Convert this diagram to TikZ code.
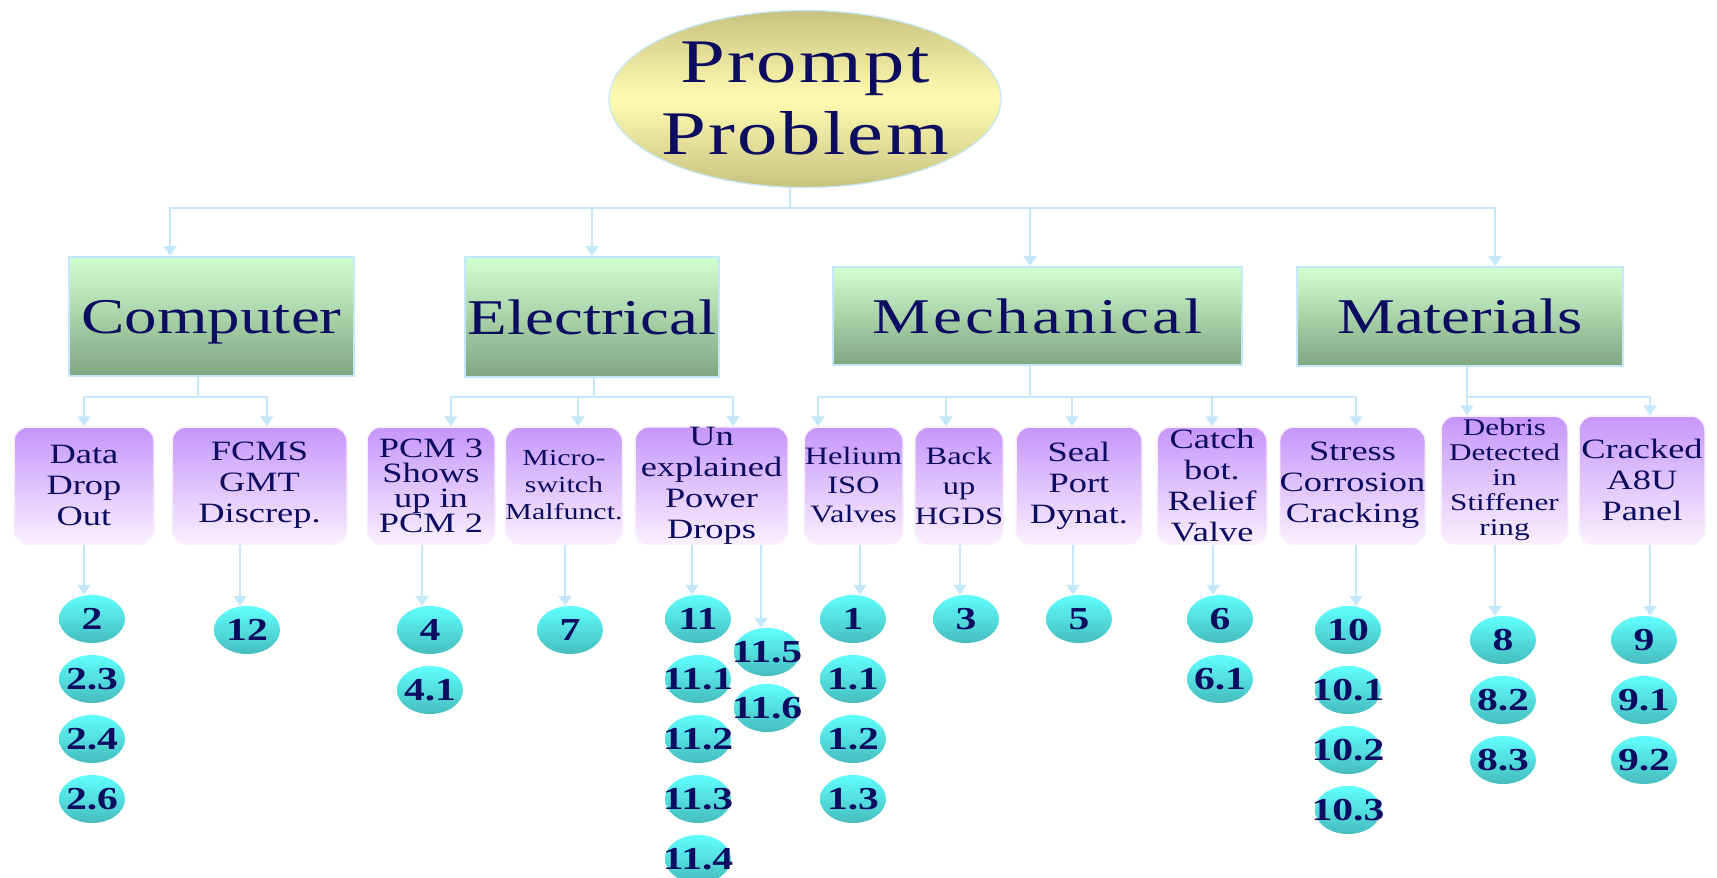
\documentclass[tikz,border=0pt]{standalone}
\usepackage{fontspec}
\setmainfont{Liberation Serif}[FakeStretch=1.3]
\usepackage{tikz}
\usetikzlibrary{shapes.geometric}
\usetikzlibrary{arrows.meta}
\definecolor{ink}{RGB}{12,12,96}
\definecolor{wire}{RGB}{196,232,250}
\definecolor{khakiA}{RGB}{200,194,128}
\definecolor{khakiB}{RGB}{255,252,178}
\definecolor{leafA}{RGB}{210,255,210}
\definecolor{leafB}{RGB}{128,166,128}
\definecolor{lilacA}{RGB}{198,150,250}
\definecolor{lilacB}{RGB}{250,240,253}
\definecolor{aquaA}{RGB}{96,255,255}
\definecolor{aquaB}{RGB}{70,188,190}
\newcommand{\titlesz}{\fontsize{62}{72}\selectfont\addfontfeatures{LetterSpace=4}}
\newcommand{\catsz}{\fontsize{50}{56}\selectfont}
\newcommand{\subsz}{\fontsize{28}{31}\selectfont}
\newcommand{\numsz}{\fontsize{32}{32}\selectfont\bfseries}

\begin{document}
\begin{tikzpicture}[x=1pt,y=-1pt,
	link/.style={draw=wire,line width=2.2pt},
	arr/.style={link,-{Triangle[width=13pt,length=10pt]}},
	titl/.style={ellipse,draw=wire,line width=1.2pt,top color=khakiA,bottom color=khakiA,middle color=khakiB,
		minimum width=392pt,minimum height=177pt,inner xsep=-6pt,inner ysep=0pt,align=center,text=ink,font=\titlesz},
	cat/.style={rectangle,draw=wire,line width=2pt,top color=leafA,bottom color=leafB,inner sep=0pt,
		text height=34pt,text depth=0pt,text=ink,font=\catsz},
	sub/.style={rectangle,rounded corners=14pt,draw=lilacB,line width=1.5pt,top color=lilacA,bottom color=lilacB,
		minimum height=117pt,inner sep=0pt,align=center,text=ink,font=\subsz},
	num/.style={ellipse,top color=aquaA,bottom color=aquaB,minimum width=66pt,minimum height=48pt,inner sep=0pt,text=ink,font=\numsz}]
	\useasboundingbox (0,0) rectangle (1717,878);
	\fill[white] (0,0) rectangle (1717,878);
	% root
	\node[titl] (top) at (805,99) {Prompt\\Problem};
	% categories
	\node[cat,minimum width=285pt,minimum height=119pt] (comp) at (211.5,316.5) {Computer};
	\node[cat,minimum width=254pt,minimum height=120pt] (elec) at (592,317) {Electrical};
	\node[cat,minimum width=409pt,minimum height=98pt] (mech) at (1037.5,316) {\addfontfeatures{LetterSpace=6}Mechanical};
	\node[cat,minimum width=326pt,minimum height=99pt] (mat) at (1460,316.5) {Materials};
	% problems
	\node[sub,minimum width=140pt] (data) at (84,485.5) {Data\\Drop\\Out};
	\node[sub,minimum width=175pt] (fcms) at (259.5,485.5) {FCMS\\GMT\\Discrep.};
	\node[sub,minimum width=128pt,font=\fontsize{28}{25}\selectfont] (pcm) at (431,485.5) {PCM 3\\Shows\\up in\\PCM 2};
	\node[sub,minimum width=114pt,font=\fontsize{23}{27}\selectfont] (micro) at (564,485.5) {Micro-\\switch\\Malfunct.};
	\node[sub,minimum width=153pt] (unexp) at (711.5,485.5) {Un\\explained\\Power\\Drops};
	\node[sub,minimum width=99pt,font=\fontsize{25}{29}\selectfont] (helium) at (853.5,485.5) {Helium\\ISO\\Valves};
	\node[sub,minimum width=88pt,font=\fontsize{25}{30}\selectfont] (backup) at (959,485.5) {Back\\up\\HGDS};
	\node[sub,minimum width=126pt] (seal) at (1079,485.5) {Seal\\Port\\Dynat.};
	\node[sub,minimum width=110pt] (catch) at (1212,485.5) {Catch\\bot.\\Relief\\Valve};
	\node[sub,minimum width=143pt] (stress) at (1352.5,485.5) {Stress\\Corrosion\\Cracking};
	\node[sub,minimum width=127pt,minimum height=128pt,font=\fontsize{24}{25}\selectfont] (debris) at (1504.5,480) {Debris\\Detected\\in\\Stiffener\\ring};
	\node[sub,minimum width=126pt,minimum height=128pt] (crack) at (1642,480) {Cracked\\A8U\\Panel};
	% numbered items
	\foreach \cl/\x/\y/\dy/\lst in {d/92/619/60/{2,2.3,2.4,2.6}, f/247/630/60/{12}, p/430/630/60/{4,4.1}, w/570/630/60/{7},
			u/698/619/60/{11,11.1,11.2,11.3,11.4}, v/767/652/56/{11.5,11.6}, h/853/619/60/{1,1.1,1.2,1.3},
			b/966/619/60/{3}, s/1079/619/60/{5}, c/1220/619/60/{6,6.1}, r/1348/630/60/{10,10.1,10.2,10.3},
			e/1503/640/60/{8,8.2,8.3}, k/1644/640/60/{9,9.1,9.2}}
		\foreach \t [count=\i from 0] in \lst
			\node[num] (\cl\i) at (\x,\y+\dy*\i) {\makebox[0pt]{\t}};
	% root to categories
	\coordinate (root) at (790,208);
	\draw[link] (top.south -| root) -- (root);
	\draw[arr] (root) -| ([xshift=-41.5pt]comp.north);
	\draw[arr] (root) -| (elec.north);
	\draw[arr] (root) -| ([xshift=-7.5pt]mech.north);
	\draw[arr] (root) -| ([xshift=35pt]mat.north);
	% categories to problems
	\coordinate (cj) at (198,397);
	\draw[link] (comp.south -| cj) -- (cj);
	\draw[arr] (cj) -| (data.north);
	\draw[arr] (cj) -| ([xshift=7.5pt]fcms.north);
	\coordinate (ej) at (594,397);
	\draw[link] (elec.south -| ej) -- (ej);
	\draw[arr] (ej) -| ([xshift=20pt]pcm.north);
	\draw[arr] (ej) -| ([xshift=14pt]micro.north);
	\draw[arr] (ej) -| ([xshift=21.5pt]unexp.north);
	\coordinate (mj) at (1030,397);
	\draw[link] (mech.south -| mj) -- (mj);
	\draw[arr] (mj) -| ([xshift=-35.5pt]helium.north);
	\draw[arr] (mj) -| ([xshift=-13pt]backup.north);
	\draw[arr] (mj) -| ([xshift=-7pt]seal.north);
	\draw[arr] (mj) -| (catch.north);
	\draw[arr] (mj) -| ([xshift=3.5pt]stress.north);
	\coordinate (tj) at (1467,397);
	\draw[link] (mat.south -| tj) -- (tj);
	\draw[arr] (tj) -| ([xshift=-37.5pt]debris.north);
	\draw[arr] (tj) -| ([xshift=8pt]crack.north);
	% problems to numbers
	\foreach \bx/\cl/\dx in {data/d/-8,fcms/f/-7,pcm/p/-8,micro/w/-5,unexp/u/-6,unexp/v/-6,helium/h/7,backup/b/-6,
			seal/s/-6,catch/c/-7,stress/r/8,debris/e/-8,crack/k/6}{
		\path ([xshift=\dx pt]\cl0.north) coordinate (tip);
		\draw[arr] (\bx.south -| tip) -- (tip);
	}
\end{tikzpicture}
\end{document}
